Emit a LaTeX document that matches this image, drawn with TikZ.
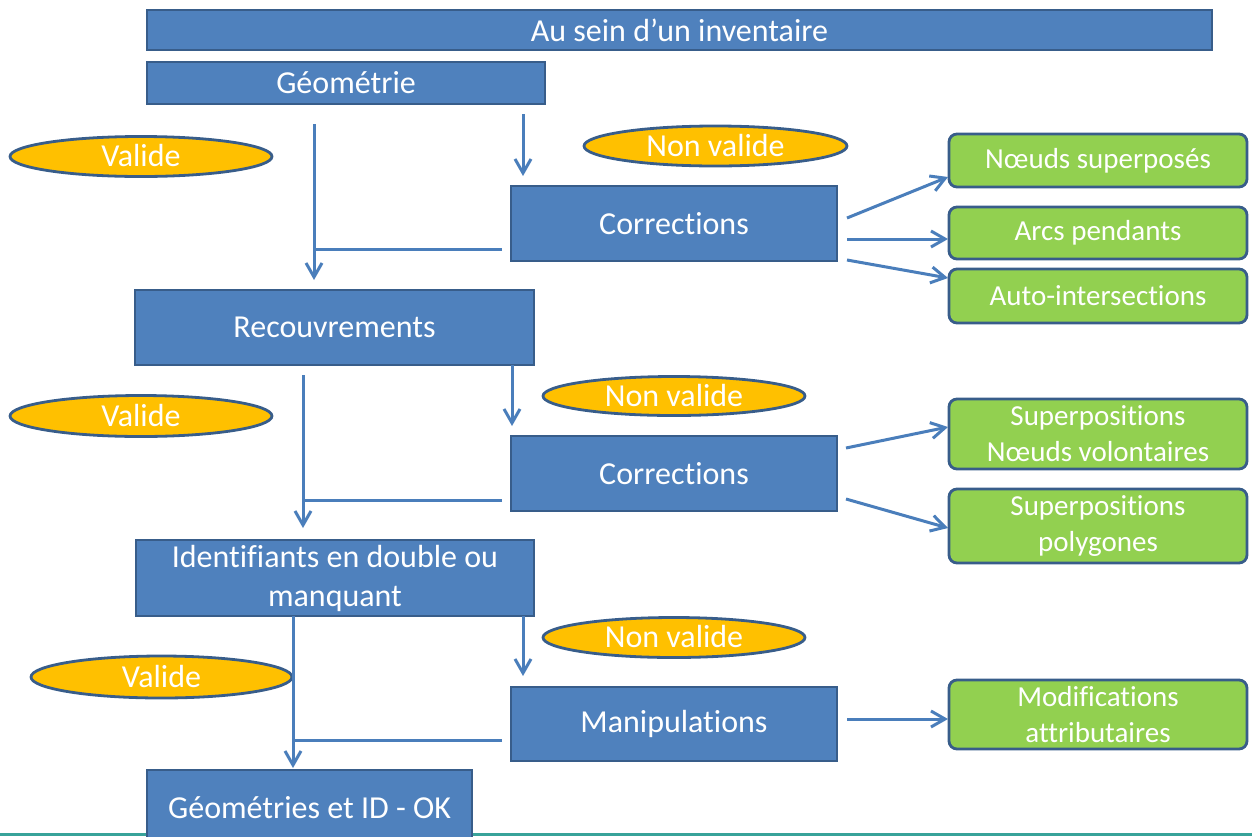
\documentclass[tikz,border=0pt]{standalone}
\usepackage{fontspec}
\setmainfont{Carlito}[Ligatures=CommonOff]
\usetikzlibrary{arrows.meta,shapes.geometric,calc}
\definecolor{boxblue}{HTML}{4F81BD}
\definecolor{boxedge}{HTML}{385D8A}
\definecolor{linkblue}{HTML}{4A7EBB}
\definecolor{ovalyellow}{HTML}{FFC000}
\definecolor{leafgreen}{HTML}{92D050}
\definecolor{tealline}{HTML}{38A39A}
\begin{document}
\begin{tikzpicture}[x=1pt,y=-1pt,
  bluebox/.style={draw=boxedge, fill=boxblue, line width=2.8pt, text=white,
    font=\fontsize{32}{39}\selectfont, inner sep=0pt, outer sep=0pt, align=center},
  leafbox/.style={draw=boxedge, fill=leafgreen, line width=2.8pt, text=white,
    rounded corners=8pt, font=\fontsize{29}{36}\selectfont, inner sep=0pt,
    outer sep=0pt, align=center, minimum width=298},
  oval/.style={ellipse, draw=boxedge, fill=ovalyellow, line width=2.8pt, text=white,
    font=\fontsize{32}{39}\selectfont, inner sep=0pt, outer sep=0pt,
    text height=20pt, text depth=0pt},
  plainlink/.style={draw=linkblue, line width=3pt},
  link/.style={plainlink, -{Straight Barb[length=14pt,width=16pt,line width=3pt]}}
]
\useasboundingbox (0,0) rectangle (1252,836);
\clip (0,0) rectangle (1252,836);

% bottom teal rule
\draw[tealline, line width=2.5pt] (0,834.5) -- (1252,834.5);

% main boxes
\node[bluebox, minimum width=1065, minimum height=40] (top) at (679.5,30) {Au sein d’un inventaire};
\node[bluebox, minimum width=398, minimum height=42] (geo) at (346,83) {Géométrie};
\node[bluebox, minimum width=326, minimum height=75] (corr1) at (674,223.5) {Corrections};
\node[bluebox, minimum width=399, minimum height=75] (rec) at (334.5,327.5) {Recouvrements};
\node[bluebox, minimum width=326, minimum height=75] (corr2) at (674,473.5) {Corrections};
\node[bluebox, minimum width=398, minimum height=76] (ident) at (335,578) {Identifiants en double ou\\manquant};
\node[bluebox, minimum width=326, minimum height=74] (manip) at (674,724) {Manipulations};
\node[bluebox, minimum width=325, minimum height=76] (ok) at (309.5,808) {Géométries et ID - OK};

% ovals
\node[oval, minimum width=262, minimum height=40] (v1) at (141,156.5) {Valide};
\node[oval, minimum width=263, minimum height=40] (nv1) at (715.5,146) {Non valide};
\node[oval, minimum width=262, minimum height=41] (v2) at (141,416) {Valide};
\node[oval, minimum width=262, minimum height=39] (nv2) at (674,396) {Non valide};
\node[oval, minimum width=261, minimum height=42] (v3) at (161.5,677) {Valide};
\node[oval, minimum width=262, minimum height=40] (nv3) at (674,637.5) {Non valide};

% green boxes
\node[leafbox, minimum height=53] (n1) at (1098,160.5) {Nœuds superposés};
\node[leafbox, minimum height=52] (n2) at (1098,233) {Arcs pendants};
\node[leafbox, minimum height=54] (n3) at (1098,296) {Auto-intersections};
\node[leafbox, minimum height=70] (n4) at (1098,434) {Superpositions\\Nœuds volontaires};
\node[leafbox, minimum height=74] (n5) at (1098,526) {Superpositions\\polygones};
\node[leafbox, minimum height=69] (n6) at (1098,714.5) {Modifications\\attributaires};

% junction coordinates
\coordinate (j1) at (314,249);
\coordinate (r1) at (523,0);
\coordinate (j2) at (303,500);
\coordinate (r2) at (512,0);
\coordinate (j3) at (293,740);
\coordinate (r3) at (523,0);

% section 1
\draw[link, shorten <=20pt, shorten >=10pt] (geo.south -| j1) -- (rec.north -| j1);
\draw[plainlink, shorten <=9pt] (corr1.west |- j1) -- (j1);
\draw[link, shorten <=10pt, shorten >=10pt] (geo.south -| r1) -- (corr1.north -| r1);

% section 2
\draw[link, shorten <=10pt, shorten >=12pt] (rec.south -| j2) -- (ident.north -| j2);
\draw[plainlink, shorten <=9pt] (corr2.west |- j2) -- (j2);
\draw[link, shorten >=10pt] (rec.south -| r2) -- (corr2.north -| r2);

% section 3
\draw[link, shorten >=2pt] (ident.south -| j3) -- (ok.north -| j3);
\draw[plainlink, shorten <=9pt] (manip.west |- j3) -- (j3);
\draw[link, shorten >=11pt] (ident.south -| r3) -- (manip.north -| r3);

% to green boxes
\draw[link] ($(corr1.east)+(10,-5.5)$) -- ($(n1.west)+(-1,16.5)$);
\draw[link] ($(corr1.east)+(10,15.5)$) -- ($(n2.west)+(-1,6)$);
\draw[link] ($(corr1.east)+(10,36.5)$) -- ($(n3.west)+(-1,-18)$);
\draw[link] ($(corr2.east)+(9,-25.5)$) -- ($(n4.west)+(-1,-7)$);
\draw[link] ($(corr2.east)+(9,25.5)$) -- ($(n5.west)+(-1,2)$);
\draw[link] ($(manip.east)+(10,-5)$) -- ($(n6.west)+(-1,4.5)$);
\end{tikzpicture}
\end{document}
